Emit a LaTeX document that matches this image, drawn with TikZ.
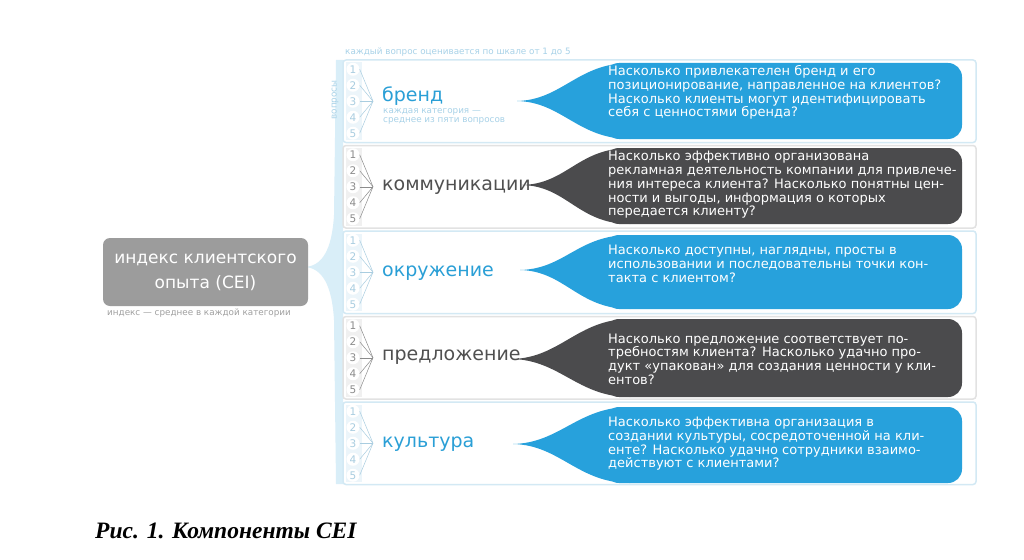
\documentclass[tikz,border=0pt]{standalone}
\usepackage{fontspec}
\setmainfont{DejaVu Sans}
\newfontfamily\capfont{Liberation Serif}
\definecolor{bubBlue}{HTML}{27A1DC}
\definecolor{bubDark}{HTML}{4B4B4D}
\definecolor{catBlue}{HTML}{2A9FD6}
\definecolor{catDark}{HTML}{505050}
\definecolor{idxGrey}{HTML}{9C9C9C}
\definecolor{noteBlue}{HTML}{A8D2E8}
\definecolor{noteGrey}{HTML}{A0A0A0}
\definecolor{bluEdge}{HTML}{D3E9F4}
\definecolor{gryEdge}{HTML}{E2E2E2}
\definecolor{bluStrip}{HTML}{ECF5FA}
\definecolor{gryStrip}{HTML}{F0F0F0}
\definecolor{bluNum}{HTML}{A9CDE0}
\definecolor{gryNum}{HTML}{8C8C8C}
\definecolor{braceFill}{HTML}{D9EEF8}
\begin{document}
\begin{tikzpicture}[x=1pt,y=-1pt,
    bubtext/.style={anchor=west,align=left,inner sep=0pt,text=white,font=\fontsize{13}{13.7}\selectfont},
    catlabel/.style={anchor=west,inner sep=0pt,font=\fontsize{19}{19}\selectfont},
    smallnote/.style={inner sep=0pt,align=left,font=\fontsize{8.8}{9.6}\selectfont},
    numcirc/.style={circle,fill=white,inner sep=0pt,minimum size=13pt,font=\fontsize{10.5}{10.5}\selectfont},
    fanline/.style={line width=0.5pt},
    rowbox/.style={line width=1.5pt,rounded corners=3pt},
    indexbox/.style={fill=idxGrey,rounded corners=7pt,minimum width=205pt,minimum height=68pt,
        text=white,align=center,font=\fontsize{17}{25}\selectfont}]
    \useasboundingbox (0,0) rectangle (1024,559);
    \fill[white] (0,0) rectangle (1024,559);
    %% Brace from the index to the rows
    \fill[braceFill] (305,267) .. controls (322,266) and (332,250) .. (334,215)
        -- (336,60) -- (343,60) -- (343,484) -- (336,484) -- (334,320)
        .. controls (332,285) and (322,268) .. (305,267) -- cycle;
    %% Index
    \node[indexbox] (cei) at (205.5,272) {индекс клиентского\\опыта (CEI)};
    \node[smallnote,text=noteGrey,anchor=north west] (ceinote) at (107,309) {индекс — среднее в каждой категории};
    %% Scale notes
    \node[smallnote,text=noteBlue,anchor=west] (scale) at (345,52) {каждый вопрос оценивается по шкале от 1 до 5};
    \node[smallnote,text=noteBlue,rotate=90] (quest) at (335,100) {вопросы};
    %% Rows with five questions each
    \foreach \r/\t/\rowc/\stripc/\numc in {1/60/bluEdge/bluStrip/bluNum,2/145.5/gryEdge/gryStrip/gryNum,
            3/231/bluEdge/bluStrip/bluNum,4/316.5/gryEdge/gryStrip/gryNum,5/402/bluEdge/bluStrip/bluNum}{
        \draw[rowbox,draw=\rowc] (343,\t) rectangle ++(633,82.5);
        \fill[\stripc] (345.5,{\t+2.5}) rectangle ++(16,77.5);
        \coordinate (a\r) at (373,{\t+41.25});
        \foreach \k in {1,...,5}{
            \node[numcirc,text=\numc] (n\r-\k) at (353,{\t+41.25+(\k-3)*16}) {\k};
            \draw[fanline,draw=\numc] (n\r-\k.east) -- (a\r);
        }
    }
    %% Categories
    \node[catlabel,text=catBlue] (brand) at (382,96) {бренд};
    \node[smallnote,text=noteBlue,anchor=north west] (brandnote) at (383,108) {каждая категория —\\среднее из пяти вопросов};
    \node[catlabel,text=catDark] (comm) at (382,187) {коммуникации};
    \node[catlabel,text=catBlue] (env) at (382,273) {окружение};
    \node[catlabel,text=catDark] (offer) at (382,357) {предложение};
    \node[catlabel,text=catBlue] (cult) at (382,444) {культура};
    %% Bubble 1
    \fill[bubBlue,rounded corners=14pt] (605,63) rectangle (962,139);
    \fill[bubBlue] (517,101) .. controls (562,100) and (578,63) .. (630,63) -- (630,139)
        .. controls (578,139) and (562,102) .. (517,101) -- cycle;
    \node[bubtext] (q1) at (608,92.5) {Насколько привлекателен бренд и его\\позиционирование, направленное на клиентов?\\Насколько клиенты могут идентифицировать\\себя с ценностями бренда?};
    %% Bubble 2
    \fill[bubDark,rounded corners=14pt] (605,148) rectangle (962,224);
    \fill[bubDark] (522,185) .. controls (567,184) and (578,148) .. (630,148) -- (630,224)
        .. controls (578,224) and (567,186) .. (522,185) -- cycle;
    \node[bubtext] (q2) at (608,185) {Насколько эффективно организована\\рекламная деятельность компании для привлече-\\ния интереса клиента? Насколько понятны цен-\\ности и выгоды, информация о которых\\передается клиенту?};
    %% Bubble 3
    \fill[bubBlue,rounded corners=14pt] (605,235) rectangle (962,309);
    \fill[bubBlue] (520,270) .. controls (565,269) and (578,235) .. (630,235) -- (630,309)
        .. controls (578,309) and (565,271) .. (520,270) -- cycle;
    \node[bubtext] (q3) at (608,264) {Насколько доступны, наглядны, просты в\\использовании и последовательны точки кон-\\такта с клиентом?};
    %% Bubble 4
    \fill[bubDark,rounded corners=14pt] (605,319) rectangle (962,397);
    \fill[bubDark] (512,359) .. controls (560,358) and (578,319) .. (630,319) -- (630,397)
        .. controls (578,397) and (560,360) .. (512,359) -- cycle;
    \node[bubtext] (q4) at (608,359) {Насколько предложение соответствует по-\\требностям клиента? Насколько удачно про-\\дукт «упакован» для создания ценности у кли-\\ентов?};
    %% Bubble 5
    \fill[bubBlue,rounded corners=14pt] (605,407) rectangle (962,483);
    \fill[bubBlue] (513,444) .. controls (560,443) and (578,407) .. (630,407) -- (630,483)
        .. controls (578,483) and (560,445) .. (513,444) -- cycle;
    \node[bubtext] (q5) at (608,444) {Насколько эффективна организация в\\создании культуры, сосредоточенной на кли-\\енте? Насколько удачно сотрудники взаимо-\\действуют с клиентами?};
    %% Caption
    \node[anchor=west,inner sep=0pt,font=\capfont\bfseries\itshape\fontsize{23.5}{23.5}\selectfont] (cap) at (95,531) {Рис. 1. Компоненты CEI};
\end{tikzpicture}
\end{document}
